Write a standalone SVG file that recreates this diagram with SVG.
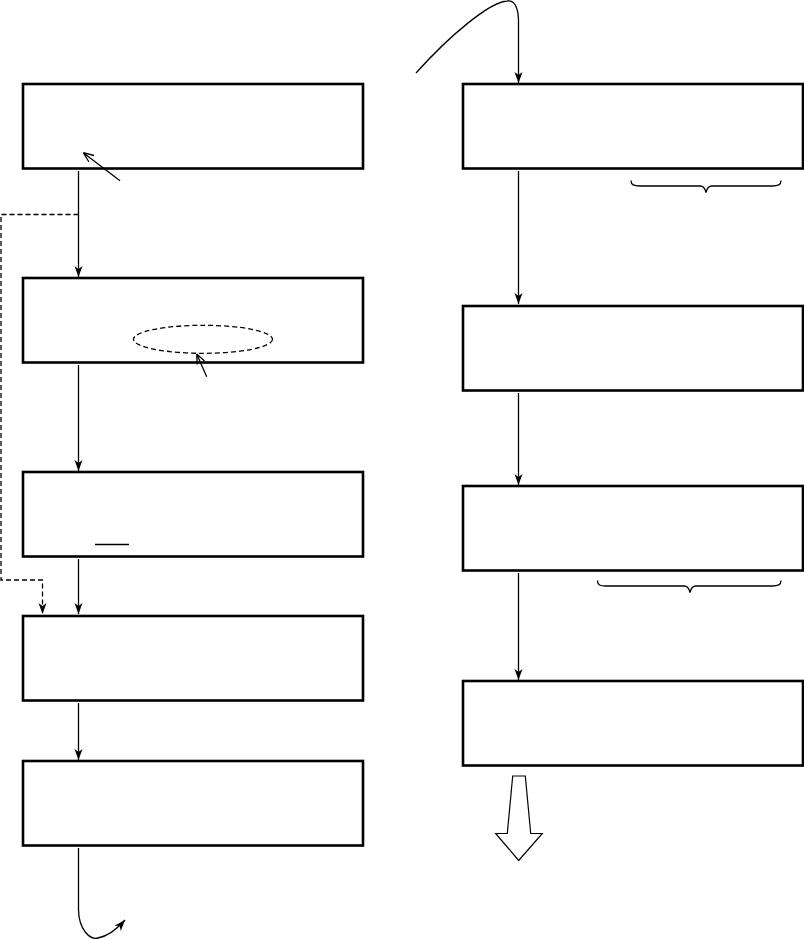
<svg xmlns="http://www.w3.org/2000/svg" width="804" height="940" viewBox="0 0 804 940">
<defs>
<marker id="ah" markerUnits="userSpaceOnUse" markerWidth="12" markerHeight="10" refX="11" refY="4" orient="auto">
<path d="M0,0 L11,4 L0,8 L3,4 z" fill="#000"/>
</marker>
</defs>
<style>
.box{fill:#fff;stroke:#000;stroke-width:2.6}
.ln{fill:none;stroke:#000;stroke-width:1.3}
.ds{fill:none;stroke:#000;stroke-width:1.3;stroke-dasharray:5,3}
</style>
<rect width="804" height="940" fill="#fff"/>
<g id="L1"><rect class="box" x="23" y="84" width="340" height="84.5"/></g>
<g id="L2"><rect class="box" x="23" y="278" width="340" height="84.5"/><ellipse class="ds" cx="203" cy="339.3" rx="69.5" ry="14" stroke="#444" stroke-width="1.1"/></g>
<g id="L3"><rect class="box" x="23" y="472" width="340" height="84.5"/><line class="ln" x1="95" y1="544.5" x2="129" y2="544.5"/></g>
<g id="L4"><rect class="box" x="23" y="616" width="340" height="84.5"/></g>
<g id="L5"><rect class="box" x="23" y="761" width="340" height="84.5"/></g>
<g id="R1"><rect class="box" x="463" y="84" width="340" height="84.5"/></g>
<g id="R2"><rect class="box" x="463" y="306" width="340" height="84.5"/></g>
<g id="R3"><rect class="box" x="463" y="486" width="340" height="84.5"/></g>
<g id="R4"><rect class="box" x="463" y="681" width="340" height="84.5"/></g>
<g id="connectors">
<line class="ln" x1="78.5" y1="171" x2="78.5" y2="277" marker-end="url(#ah)"/>
<line class="ln" x1="78.5" y1="365" x2="78.5" y2="471" marker-end="url(#ah)"/>
<line class="ln" x1="78.5" y1="559" x2="78.5" y2="614" marker-end="url(#ah)"/>
<line class="ln" x1="78.5" y1="703" x2="78.5" y2="760" marker-end="url(#ah)"/>
<polyline class="ds" points="78.5,214.5 1,214.5 1,580 42.5,580 42.5,614" marker-end="url(#ah)"/>
<path class="ln" d="M78.5,848 L78.5,910 C79,930 90,940 98,938 C108,936 118,928 125,920" marker-end="url(#ah)"/>
<path class="ln" d="M416,73 C450,35 490,2 507,1 C514,0 518,6 518.5,20 L518.5,83" marker-end="url(#ah)"/>
<line class="ln" x1="518.5" y1="171" x2="518.5" y2="304" marker-end="url(#ah)"/>
<line class="ln" x1="518.5" y1="393" x2="518.5" y2="485" marker-end="url(#ah)"/>
<line class="ln" x1="518.5" y1="573" x2="518.5" y2="680" marker-end="url(#ah)"/>
<path class="ln" d="M120,180.7 L83.3,152.7 M83.3,152.7 L94,155.5 M83.3,152.7 L89,162"/>
<path class="ln" d="M206.7,376.7 L196.7,354 M196.7,354 L204.5,361 M196.7,354 L197.2,364.5"/>
<path class="ln" d="M631,180.5 C631,185 634,186 640,186 L700,186 C703,186 705,188 706,192.5 C707,188 709,186 712,186 L772,186 C778,186 781,185 781,180.5"/>
<path class="ln" d="M597.5,580.5 C597.5,585 600,586 606,586 L684,586 C687,586 689,588 690,592.5 C691,588 693,586 696,586 L772,586 C778,586 781,585 781,580.5"/>
<path d="M512.7,776 L525.3,776 L530.7,833.5 L542.3,833.5 L518.7,860.5 L495.7,833.5 L507.3,833.5 Z" fill="#fff" stroke="#000" stroke-width="1.2"/>
</g>
</svg>
